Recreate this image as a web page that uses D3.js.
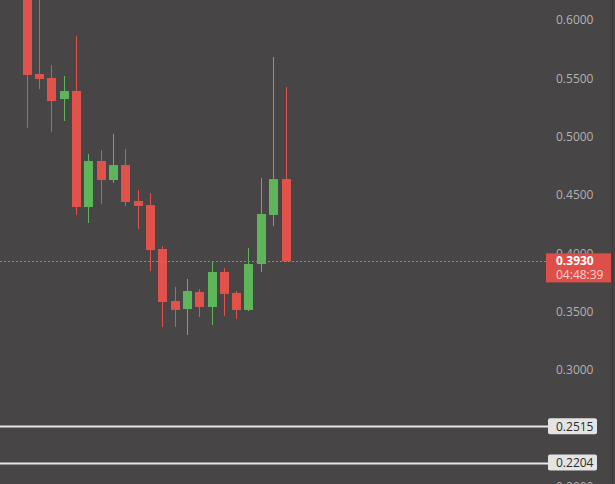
<!DOCTYPE html>
<html>
<head>
<meta charset="utf-8">
<script src="https://cdn.jsdelivr.net/npm/d3@7"></script>
<style>
  html, body { margin: 0; padding: 0; background: #474545; overflow: hidden; }
  svg { display: block; }
</style>
</head>
<body>
<div id="chart"></div>
<script>
// Candle data (one entry per bar)
var opens  = [0.645, 0.5537, 0.5503, 0.5322, 0.5391, 0.4396, 0.4791, 0.4628, 0.4756, 0.4448, 0.4413,
              0.4036, 0.3590, 0.3521, 0.3667, 0.3539, 0.3839, 0.3659, 0.3513, 0.3907, 0.4328, 0.4636];
var highs  = [0.660, 0.630, 0.5614, 0.5520, 0.5863, 0.4851, 0.4885, 0.5022, 0.4894, 0.4542, 0.4516,
              0.4062, 0.3710, 0.3779, 0.3693, 0.3925, 0.3873, 0.3676, 0.4045, 0.4645, 0.5683, 0.5425];
var lows   = [0.5074, 0.5408, 0.5039, 0.5134, 0.4328, 0.4259, 0.4422, 0.4602, 0.4405, 0.4208, 0.3847,
              0.3367, 0.3367, 0.3298, 0.3453, 0.3384, 0.3461, 0.3436, 0.3504, 0.3839, 0.4233, 0.3925];
var closes = [0.5528, 0.5494, 0.5305, 0.5391, 0.4396, 0.4791, 0.4628, 0.4756, 0.4439, 0.4405, 0.4027,
              0.3581, 0.3513, 0.3676, 0.3539, 0.3839, 0.3650, 0.3513, 0.3907, 0.4336, 0.4636, 0.3930];

// Price axis ticks
var tickValues = [0.20, 0.25, 0.30, 0.35, 0.40, 0.45, 0.50, 0.55, 0.60];

// Last price + countdown, and the two horizontal levels
var lastPrice = 0.3930;
var countdown = "04:48:39";
var levels = [0.2515, 0.2204];

var width = 615, height = 484;
var plotRight = 546;

var svg = d3.select("#chart").append("svg")
    .attr("width", width)
    .attr("height", height);

svg.append("rect")
    .attr("width", width).attr("height", height)
    .attr("fill", "#474545");

// Scales
var y = d3.scaleLinear()
    .domain([0.2, 0.6])
    .range([486.4, 20]);

var x = d3.scaleLinear()
    .domain([0, opens.length - 1])
    .range([26.5, 285.5]);

var bodyW = 9;
var up = "#5fb55a", down = "#e0524a";

var candles = d3.range(opens.length).map(function (i) {
    return {i: i, o: opens[i], h: highs[i], l: lows[i], c: closes[i]};
});

// Right price axis
var yAxis = svg.append("g")
    .attr("transform", "translate(548,0)")
    .call(d3.axisRight(y).tickValues(tickValues).tickFormat(d3.format(".4f")).tickSize(0).tickPadding(8));
yAxis.select(".domain").remove();
yAxis.selectAll("text")
    .attr("fill", "#b3b1b1")
    .style("font-family", "'Open Sans', 'DejaVu Sans', sans-serif")
    .style("font-size", "12px");

// Horizontal levels
var lv = svg.append("g");
lv.selectAll("line")
    .data(levels)
    .enter().append("line")
    .attr("x1", 0).attr("x2", plotRight + 2)
    .attr("y1", function (d) { return Math.round(y(d)) + 0.5; })
    .attr("y2", function (d) { return Math.round(y(d)) + 0.5; })
    .attr("stroke", "#e8e8e8")
    .attr("stroke-width", 2);

lv.selectAll("rect")
    .data(levels)
    .enter().append("rect")
    .attr("x", 548).attr("width", 49)
    .attr("y", function (d) { return y(d) - 8; })
    .attr("height", 16)
    .attr("rx", 2)
    .attr("fill", "#e4e4e4");

lv.selectAll("text")
    .data(levels)
    .enter().append("text")
    .attr("x", 556)
    .attr("y", function (d) { return y(d); })
    .attr("dy", "0.35em")
    .attr("fill", "#2a2a2a")
    .style("font-family", "'Open Sans', 'DejaVu Sans', sans-serif")
    .style("font-size", "12px")
    .text(function (d) { return d.toFixed(4); });

// Candles
var g = svg.append("g");

g.selectAll("line.wick")
    .data(candles)
    .enter().append("line")
    .attr("class", "wick")
    .attr("x1", function (d) { return Math.round(x(d.i)) + 0.5; })
    .attr("x2", function (d) { return Math.round(x(d.i)) + 0.5; })
    .attr("y1", function (d) { return y(d.h); })
    .attr("y2", function (d) { return y(d.l); })
    .attr("stroke", function (d) { return d.c >= d.o ? up : down; })
    .attr("stroke-width", 1);

g.selectAll("rect.body")
    .data(candles)
    .enter().append("rect")
    .attr("class", "body")
    .attr("x", function (d) { return Math.round(x(d.i)) + 0.5 - bodyW / 2; })
    .attr("y", function (d) { return y(Math.max(d.o, d.c)); })
    .attr("width", bodyW)
    .attr("height", function (d) { return Math.max(1, Math.abs(y(d.o) - y(d.c))); })
    .attr("fill", function (d) { return d.c >= d.o ? up : down; });

// Last price dotted line
svg.append("line")
    .attr("x1", 0).attr("x2", plotRight)
    .attr("y1", Math.round(y(lastPrice)) + 0.5)
    .attr("y2", Math.round(y(lastPrice)) + 0.5)
    .attr("stroke", "#e8605a")
    .attr("stroke-width", 1)
    .attr("stroke-dasharray", "2,2");

// Last price label
var lp = svg.append("g");
lp.append("rect")
    .attr("x", plotRight).attr("y", y(lastPrice) - 8)
    .attr("width", 65).attr("height", 29)
    .attr("fill", "#df4f49");
lp.append("text")
    .attr("x", 556).attr("y", y(lastPrice) + 4)
    .attr("fill", "#ffffff")
    .style("font-family", "'Open Sans', 'DejaVu Sans', sans-serif")
    .style("font-size", "12px")
    .style("font-weight", "bold")
    .text(lastPrice.toFixed(4));
lp.append("text")
    .attr("x", 556).attr("y", y(lastPrice) + 18)
    .attr("fill", "#f7d0cd")
    .style("font-family", "'Open Sans', 'DejaVu Sans', sans-serif")
    .style("font-size", "12px")
    .text(countdown);

// Right edge border
svg.append("line")
    .attr("x1", 612.5).attr("x2", 612.5)
    .attr("y1", 0).attr("y2", height)
    .attr("stroke", "#3a3838")
    .attr("stroke-width", 1);
</script>
</body>
</html>
